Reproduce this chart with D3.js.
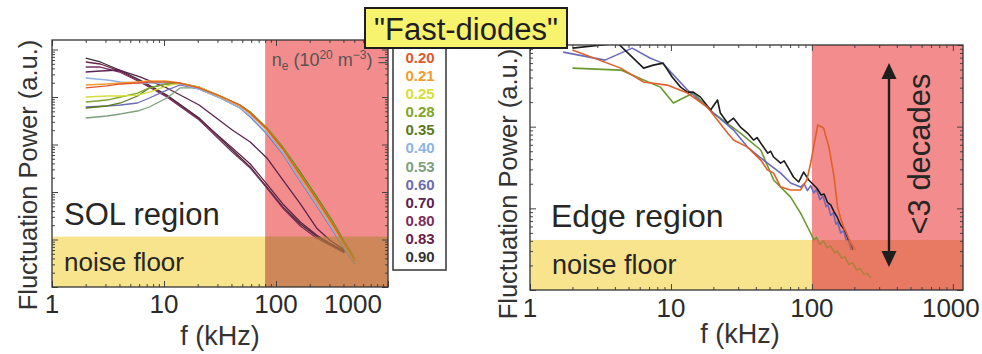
<!DOCTYPE html>
<html>
<head>
<meta charset="utf-8">
<script src="https://cdn.jsdelivr.net/npm/d3@7"></script>
<style>
  html, body { margin: 0; padding: 0; background: #fff; }
  svg { display: block; font-family: "Liberation Sans", Arial, Helvetica, sans-serif; }
</style>
</head>
<body>
<svg id="chart" width="982" height="354"></svg>
<script>
// ---- Line-averaged densities n_e (10^20 m^-3) and their trace colours ----
const densities = ["0.20", "0.21", "0.25", "0.28", "0.35", "0.40", "0.53", "0.60", "0.70", "0.80", "0.83", "0.90"];
const densityColors = ["#e0582c", "#f39c2c", "#d6de3a", "#7fa42a", "#5c781e", "#8fb2e4", "#7d9e7d", "#6c6cb2", "#5a2350", "#7a2e5c", "#6a2048", "#333333"];

// ---- SOL region spectra: frequency (kHz) grids ----
const solFreqLow  = [2, 3.1, 4.1, 5.8, 7.4, 10.6, 13.9, 20.6, 31.7, 47.6, 58.9, 82.9, 115, 164, 232, 323, 413, 508];
const solFreqHigh = [2, 2.7, 4, 6.1, 10.6, 20.6, 40.7, 58.9, 82.9, 115, 165, 230, 301, 410];

// ---- SOL region fluctuation power (a.u.), one array per density ----
const sol020 = [0.155, 0.171, 0.188, 0.197, 0.207, 0.207, 0.197, 0.155, 0.105, 0.0679, 0.0461, 0.0212, 0.00804, 0.00228, 6.79e-4, 2.02e-4, 7.66e-5, 3.53e-5];
const sol021 = [0.179, 0.188, 0.197, 0.207, 0.217, 0.217, 0.197, 0.155, 0.100, 0.0647, 0.0439, 0.0202, 0.00766, 0.00207, 6.16e-4, 1.83e-4, 6.96e-5, 3.36e-5];
const sol025 = [0.100, 0.105, 0.105, 0.110, 0.127, 0.171, 0.197, 0.162, 0.105, 0.0647, 0.0461, 0.0202, 0.00766, 0.00217, 6.47e-4, 1.92e-4, 7.30e-5, 3.70e-5];
const sol028 = [0.0785, 0.0864, 0.100, 0.121, 0.155, 0.188, 0.197, 0.162, 0.105, 0.0679, 0.0483, 0.0223, 0.00886, 0.00251, 7.48e-4, 2.23e-4, 8.04e-5, 3.70e-5];
const sol035 = [0.0587, 0.0647, 0.0748, 0.105, 0.155, 0.188, 0.197, 0.162, 0.105, 0.0679, 0.0483, 0.0223, 0.00886, 0.00264, 7.85e-4, 2.34e-4, 8.44e-5, 3.89e-5];
const sol040 = [0.251, 0.228, 0.207, 0.197, 0.197, 0.197, 0.188, 0.147, 0.0953, 0.0587, 0.0398, 0.0175, 0.00662, 0.00179, 5.33e-4, 1.585e-4, 6.31e-5, 3.20e-5];
const sol053 = [0.0361, 0.0398, 0.0439, 0.0507, 0.0616, 0.0953, 0.155, 0.155, 0.100, 0.0647, 0.0461, 0.0212, 0.00844, 0.00239, 7.13e-4, 2.12e-4, 7.66e-5, 3.36e-5];
const sol060 = [0.0616, 0.0647, 0.0679, 0.0748, 0.0953, 0.140, 0.179, 0.147, 0.0953, 0.0587, 0.0379, 0.0166, 0.00631, 0.00171, 5.07e-4, 1.51e-4, 6.01e-5, 3.05e-5];
const sol070 = [0.336, 0.353, 0.370, 0.264, 0.155, 0.0679, 0.0202, 0.0113, 0.0052, 0.00179, 5.6e-4, 1.75e-4, 9.76e-5, 6.01e-5];
const sol080 = [0.428, 0.428, 0.336, 0.207, 0.100, 0.0328, 0.00696, 0.0032, 0.00121, 4.6e-4, 1.92e-4, 1.08e-4, 7.66e-5, 5.2e-5];
const sol083 = [0.546, 0.495, 0.353, 0.217, 0.105, 0.0344, 0.00844, 0.00389, 0.00147, 5.6e-4, 2.34e-4, 1.24e-4, 8.44e-5, 5.73e-5];
const sol090 = [0.662, 0.546, 0.370, 0.228, 0.110, 0.0361, 0.00766, 0.00336, 0.00127, 4.84e-4, 2.12e-4, 1.18e-4, 8.04e-5, 5.46e-5];

// ---- Edge region spectra: [f (kHz), power (a.u.)] ----
const edge090 = [[2, 0.916], [4.2, 1.05], [5.4, 0.692], [6.4, 0.521], [7.5, 0.567], [8.8, 0.600], [10.2, 0.405], [11.7, 0.305], [13.1, 0.265], [14.4, 0.265], [16.2, 0.230], [19.1, 0.160], [21.4, 0.212], [22.4, 0.147], [25.2, 0.111], [27.8, 0.127], [31.1, 0.0989], [34.9, 0.0836], [38.5, 0.0686], [40.8, 0.0736], [43.3, 0.0630], [48.5, 0.0475], [51, 0.0500], [53.5, 0.0425], [60, 0.0358], [63.5, 0.0382], [67.3, 0.0321], [74, 0.0242], [80.5, 0.0210], [87.4, 0.0278], [94.9, 0.0222], [103, 0.0193], [109, 0.0175], [116, 0.0146], [122, 0.0150], [129, 0.0118], [136, 0.0110], [143, 0.0092], [150, 0.0080], [160, 0.00625], [170, 0.0055], [182, 0.00409], [188, 0.0038], [195, 0.00309]];
const edge060 = [[1.72, 0.818], [3.4, 0.653], [5.3, 0.916], [7.1, 0.692], [8.7, 0.600], [13.1, 0.281], [20, 0.147], [27.8, 0.0908], [34.9, 0.0562], [45.4, 0.0390], [60, 0.0270], [70.6, 0.0204], [83.1, 0.0182], [88, 0.0200], [93, 0.0165], [98, 0.0190], [103, 0.0154], [108, 0.0170], [114, 0.0128], [120, 0.0140], [126, 0.0105], [130, 0.0110], [136, 0.0082], [142, 0.0088], [148, 0.0064], [152, 0.0068], [160, 0.0050], [168, 0.0053], [175, 0.0041], [180, 0.0042], [189, 0.00309]];
const edge035 = [[2, 0.521], [4.4, 0.493], [8.4, 0.305], [10.4, 0.195], [14.4, 0.258], [20, 0.147], [31.1, 0.0836], [43.3, 0.0518], [48.5, 0.0330], [53.5, 0.0222], [70.6, 0.0137], [83.1, 0.00875], [97.9, 0.00499], [103, 0.00409], [108, 0.00440], [113, 0.00360], [121, 0.00400], [128, 0.00330], [136, 0.00345], [145, 0.00285], [152, 0.00300], [162, 0.00245], [172, 0.00255], [182, 0.00205], [195, 0.00215], [208, 0.00175], [220, 0.00185], [233, 0.00155], [247, 0.00160], [262, 0.00140]];
const edge020 = [[2, 0.866], [4.4, 0.521], [6.4, 0.352], [9.4, 0.323], [13.1, 0.258], [18.1, 0.174], [25.2, 0.0836], [27.8, 0.0686], [34.9, 0.0562], [43.3, 0.0390], [48.5, 0.0294], [53.5, 0.0270], [60, 0.0182], [70.6, 0.0168], [83.1, 0.0168], [92, 0.0222], [98, 0.0358], [110, 0.105], [121, 0.0962], [132, 0.0562], [143, 0.0256], [152, 0.0104], [160, 0.0075], [168, 0.00590], [176, 0.0050], [182, 0.0043], [189, 0.00376], [196, 0.0035], [204, 0.00309]];
const edgeColors = { edge090: "#1c1c1c", edge060: "#6a6abf", edge035: "#6a9a2e", edge020: "#e0602a" };

// ---- Axis tick labels (kHz) ----
const freqTickLabels = [1, 10, 100, 1000];

// ---- Shaded bands ----
const solCutoffKHz = 80;     // start of the red band in the SOL panel
const edgeCutoffKHz = 100;   // start of the red band in the edge panel
const solNoiseLevel = 1.15e-4;
const edgeNoiseLevel = 4.1e-3;

// ---------------------------------------------------------------------------
const svg = d3.select("#chart");

const solSeries = densities.map((ne, i) => {
  const p = [sol020, sol021, sol025, sol028, sol035, sol040, sol053, sol060, sol070, sol080, sol083, sol090][i];
  const f = i < 8 ? solFreqLow : solFreqHigh;
  return { ne, color: densityColors[i], points: f.map((fv, k) => [fv, p[k]]) };
});

const edgeSeries = [
  { points: edge035, color: edgeColors.edge035 },
  { points: edge060, color: edgeColors.edge060 },
  { points: edge090, color: edgeColors.edge090 },
  { points: edge020, color: edgeColors.edge020 }
];

function logTickValues(lo, hi) {
  const major = [], minor = [];
  for (let e = Math.floor(Math.log10(lo)) - 1; e <= Math.ceil(Math.log10(hi)); e++) {
    for (let k = 1; k <= 9; k++) {
      const v = k * Math.pow(10, e);
      if (v < lo * 0.9999 || v > hi * 1.0001) continue;
      (k === 1 ? major : minor).push(v);
    }
  }
  return { major, minor };
}

function drawPanel(cfg) {
  const { id, x, y, series, cutoff, noise, bandColors, strokeWidth } = cfg;
  const [x0, x1] = x.range();
  const [yb, yt] = y.range();
  const g = svg.append("g");

  g.append("clipPath").attr("id", id + "-clip")
    .append("rect").attr("x", x0).attr("y", yt).attr("width", x1 - x0).attr("height", yb - yt);

  // red high-frequency band (behind the traces)
  g.append("rect")
    .attr("x", x(cutoff)).attr("y", yt)
    .attr("width", x1 - x(cutoff)).attr("height", yb - yt)
    .attr("fill", bandColors.red);

  const line = d3.line().x(d => x(d[0])).y(d => y(d[1]));
  g.append("g").attr("clip-path", `url(#${id}-clip)`)
    .selectAll("path").data(series).join("path")
    .attr("d", d => line(d.points))
    .attr("fill", "none")
    .attr("stroke", d => d.color)
    .attr("stroke-width", strokeWidth)
    .attr("stroke-linejoin", "round");

  // noise floor band (over the traces, translucent)
  g.append("rect")
    .attr("x", x0).attr("y", y(noise))
    .attr("width", x(cutoff) - x0).attr("height", yb - y(noise))
    .attr("fill", bandColors.noise).attr("fill-opacity", 0.6);
  g.append("rect")
    .attr("x", x(cutoff)).attr("y", y(noise))
    .attr("width", x1 - x(cutoff)).attr("height", yb - y(noise))
    .attr("fill", bandColors.overlap).attr("fill-opacity", 0.6);

  // ticks on all four sides, pointing inward
  const xt = logTickValues(x.domain()[0], x.domain()[1]);
  const yv = logTickValues(y.domain()[0], y.domain()[1]);
  const axes = [
    [d3.axisBottom, x, `translate(0,${yb})`, xt],
    [d3.axisTop, x, `translate(0,${yt})`, xt],
    [d3.axisLeft, y, `translate(${x0},0)`, yv],
    [d3.axisRight, y, `translate(${x1},0)`, yv]
  ];
  axes.forEach(([axisFn, scale, tr, tv]) => {
    [[tv.major, 6], [tv.minor, 3]].forEach(([vals, len]) => {
      g.append("g").attr("transform", tr)
        .call(axisFn(scale).tickValues(vals).tickSize(-len).tickFormat(""))
        .call(a => a.select(".domain").remove())
        .call(a => a.selectAll("line").attr("stroke", "#444").attr("stroke-width", 1));
    });
  });

  g.append("rect")
    .attr("x", x0).attr("y", yt).attr("width", x1 - x0).attr("height", yb - yt)
    .attr("fill", "none").attr("stroke", "#333").attr("stroke-width", 1.3);

  return g;
}

// ---- SOL panel ----
const xSol = d3.scaleLog().domain([1, 1000]).range([52, 388]);
const ySol = d3.scaleLog().domain([1e-5, Math.pow(10, 0.2)]).range([287, 40]);
const solOrder = [11, 10, 9, 8, 7, 6, 5, 4, 3, 2, 1, 0].map(i => solSeries[i]);
drawPanel({
  id: "sol", x: xSol, y: ySol, series: solOrder, cutoff: solCutoffKHz, noise: solNoiseLevel,
  bandColors: { red: "#f38c8c", noise: "#f3d23f", overlap: "#b48435" }, strokeWidth: 1.3
});

// ---- Edge panel ----
const xEdge = d3.scaleLog().domain([1, 1180]).range([530, 963]);
const yEdge = d3.scaleLog().domain([1e-3, 1]).range([290, 45]);
drawPanel({
  id: "edge", x: xEdge, y: yEdge, series: edgeSeries, cutoff: edgeCutoffKHz, noise: edgeNoiseLevel,
  bandColors: { red: "#f38c8c", noise: "#f3d23f", overlap: "#e16e49" }, strokeWidth: 1.6
});

// ---- frequency tick labels ----
function tickLabels(x, baseline, nudgeLast) {
  svg.append("g").selectAll("text").data(freqTickLabels).join("text")
    .attr("x", (d, i) => x(d) + (i === freqTickLabels.length - 1 ? nudgeLast : 0))
    .attr("y", baseline)
    .attr("font-size", "26px").attr("fill", "#2b2b2b")
    .attr("text-anchor", "middle")
    .text(d => d);
}
tickLabels(xSol, 313, -35);   // last label pulled left, clear of the density key
tickLabels(xEdge, 317, -2);

// ---- axis titles ----
function axisTitle(txt, tx, ty, rot) {
  svg.append("text")
    .attr("transform", `translate(${tx},${ty}) rotate(${rot})`)
    .attr("text-anchor", "middle")
    .attr("font-size", rot ? "25.5px" : "27px")
    .attr("fill", "#333")
    .text(txt);
}
axisTitle("f (kHz)", 220, 345, 0);
axisTitle("f (kHz)", 740, 343, 0);
axisTitle("Fluctuation Power (a.u.)", 37, 175, -90);
axisTitle("Fluctuation Power (a.u.)", 517, 184, -90);

// ---- region annotations ----
function note(txt, x, y, size) {
  svg.append("text").attr("x", x).attr("y", y)
    .attr("font-size", size).attr("fill", "#262626").text(txt);
}
note("SOL region", 64, 225, "31px");
note("noise floor", 64, 271, "26px");
note("Edge region", 551, 227, "32px");
note("noise floor", 552, 274, "27px");

// "<3 decades" span arrow in the edge panel
const arrowX = 889;
svg.append("line").attr("x1", arrowX).attr("x2", arrowX).attr("y1", 76).attr("y2", 254)
  .attr("stroke", "#1e1e1e").attr("stroke-width", 2.4);
svg.append("path").attr("d", `M${arrowX},63 L${arrowX - 7.5},79 L${arrowX + 7.5},79 Z`).attr("fill", "#1e1e1e");
svg.append("path").attr("d", `M${arrowX},267 L${arrowX - 7.5},251 L${arrowX + 7.5},251 Z`).attr("fill", "#1e1e1e");
svg.append("text")
  .attr("transform", "translate(930,154) rotate(-90)")
  .attr("text-anchor", "middle").attr("font-size", "31px").attr("fill", "#262626")
  .text("<3 decades");

// ---- density key ----
const neLabel = svg.append("text").attr("x", 388).attr("y", 66)
  .attr("text-anchor", "end").attr("font-size", "18px").attr("fill", "#555");
neLabel.append("tspan").text("n");
neLabel.append("tspan").attr("font-size", "12px").attr("dy", 4).text("e");
neLabel.append("tspan").attr("dy", -4).text(" (10");
neLabel.append("tspan").attr("font-size", "12px").attr("dy", -7).text("20");
neLabel.append("tspan").attr("dy", 7).text(" m");
neLabel.append("tspan").attr("font-size", "12px").attr("dy", -7).text("−3");
neLabel.append("tspan").attr("dy", 7).text(") =");

svg.append("rect").attr("x", 393).attr("y", 40).attr("width", 53).attr("height", 230)
  .attr("fill", "#fff").attr("stroke", "#333").attr("stroke-width", 1.5);
const keyY = d3.scalePoint().domain(densities).range([63, 262]);
svg.append("g").selectAll("text").data(solSeries).join("text")
  .attr("x", 420).attr("y", d => keyY(d.ne))
  .attr("text-anchor", "middle").attr("font-size", "15px").attr("font-weight", "bold")
  .attr("fill", d => d.color)
  .text(d => d.ne);

// ---- title box ----
svg.append("rect").attr("x", 365).attr("y", 8).attr("width", 202).attr("height", 40)
  .attr("fill", "#f8f36c").attr("stroke", "#1e1e1e").attr("stroke-width", 2);
svg.append("text").attr("x", 466).attr("y", 40)
  .attr("text-anchor", "middle").attr("font-size", "31px").attr("fill", "#1e1e1e")
  .text("\"Fast-diodes\"");
</script>
</body>
</html>
